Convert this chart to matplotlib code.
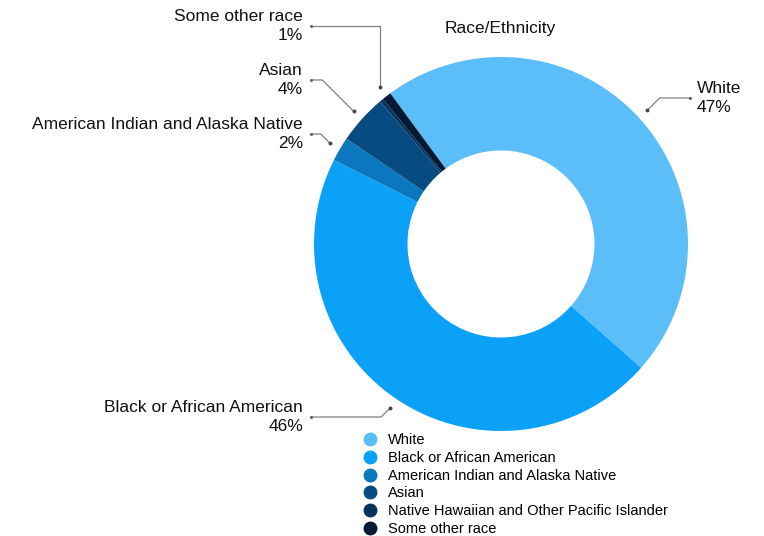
import numpy as np
import matplotlib
matplotlib.use("Agg")
import matplotlib.pyplot as plt
from matplotlib.lines import Line2D

plt.rcParams['font.family'] = ['Liberation Sans', 'DejaVu Sans']

# ---- data ----
categories = ["White", "Black or African American", "American Indian and Alaska Native",
              "Asian", "Native Hawaiian and Other Pacific Islander", "Some other race"]
values = [46.6, 45.9, 2.1, 4.3, 0.3, 0.8]
colors = ["#5BBEF9", "#0AA1F7", "#0B77BE", "#064C82", "#04345E", "#021A33"]
title = "Race/Ethnicity"
# which slices get an outside label
labelled = ["White", "Black or African American", "American Indian and Alaska Native",
            "Asian", "Some other race"]

# ---- layout (figure pixels) ----
W, H = 764, 536
cx, cy, R = 501, 244, 187
fig = plt.figure(figsize=(W / 100, H / 100), dpi=100)
ax = fig.add_axes([(cx - R) / W, (H - cy - R) / H, 2 * R / W, 2 * R / H])

start = 126.3
wedges, _ = ax.pie(values, colors=colors, startangle=start, counterclock=False,
                   radius=1.0, wedgeprops=dict(width=0.5, linewidth=0))
ax.set_xlim(-1, 1)
ax.set_ylim(-1, 1)
ax.set_aspect('equal')
ax.axis('off')

FS = 12.5
# label placement: (side, line y in data units, style)
place = {
    "White": ("right", (cy - 98) / R, "diag"),
    "Black or African American": ("left", (cy - 417) / R, "diag"),
    "American Indian and Alaska Native": ("left", (cy - 134) / R, "diag"),
    "Asian": ("left", (cy - 80) / R, "diag"),
    "Some other race": ("left", (cy - 26) / R, "vert"),
}
x_line_left = (311 - cx) / R
x_text_left = (303 - cx) / R
x_line_right = (690 - cx) / R
x_text_right = (697 - cx) / R

for w, name, v in zip(wedges, categories, values):
    if name not in labelled:
        continue
    mid = np.deg2rad((w.theta1 + w.theta2) / 2)
    ax_, ay_ = 1.06 * np.cos(mid), 1.06 * np.sin(mid)
    side, yl, style = place[name]
    sgn = 1 if side == "right" else -1
    if style == "vert":
        ex, ey = ax_, yl
    else:
        d = abs(yl - ay_)
        ex, ey = ax_ + sgn * d, yl
    xend = x_line_right if side == "right" else x_line_left
    ax.plot([ax_, ex, xend], [ay_, ey, yl], color="#808080", lw=0.9, clip_on=False,
            solid_joinstyle='miter')
    ax.plot([ax_], [ay_], marker='o', ms=1.8, color="#444444", clip_on=False)
    ax.plot([xend], [yl], marker='o', ms=1.2, color="#666666", clip_on=False)
    txt = f"{name}\n{round(v):d}%"
    if side == "right":
        ax.text(x_text_right, yl, txt, ha='left', va='center', multialignment='left',
                fontsize=FS, color="#111111", clip_on=False, linespacing=1.35)
    else:
        ax.text(x_text_left, yl, txt, ha='right', va='center', multialignment='right',
                fontsize=FS, color="#111111", clip_on=False, linespacing=1.35)

fig.text(500 / W, 1 - 28 / H, title, ha='center', va='center', fontsize=FS, color="#111111")

handles = [Line2D([0], [0], marker='o', linestyle='none', markersize=9,
                  markerfacecolor=c, markeredgecolor=c) for c in colors]
LFS = 10.5
fig.legend(handles, categories, loc='upper left',
           bbox_to_anchor=(362.7 / W, 1 - 433.5 / H), frameon=False, fontsize=LFS,
           borderpad=0, borderaxespad=0, handlelength=1.0, handletextpad=0.75,
           labelspacing=0.25)

fig.savefig("out.png", dpi=100)
